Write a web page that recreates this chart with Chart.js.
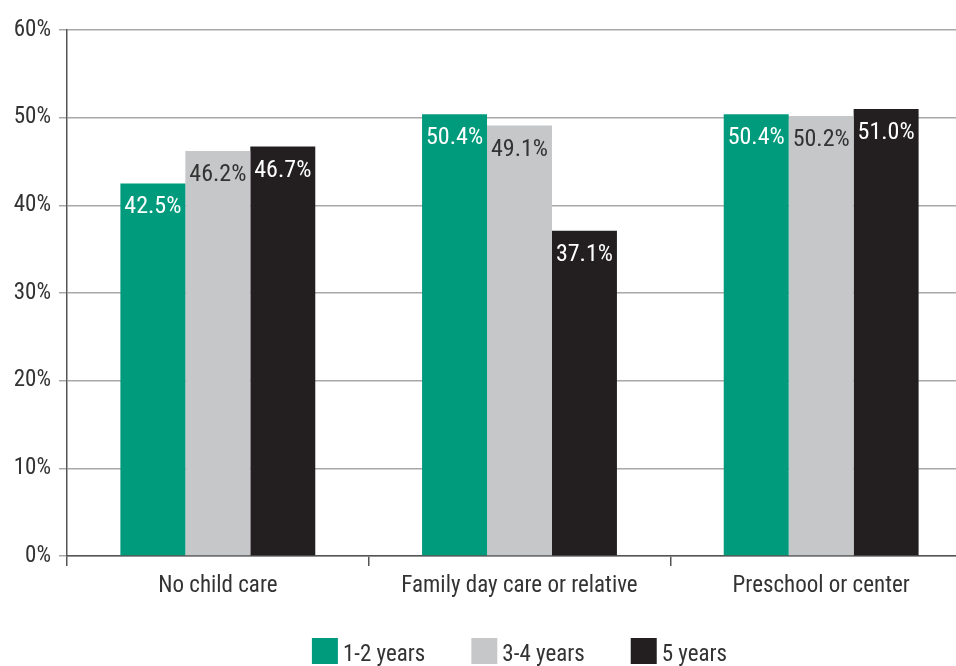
<!DOCTYPE html>
<html>
<head>
<meta charset="utf-8">
<title>Child care chart</title>
<script src="https://cdn.jsdelivr.net/npm/chart.js@4/dist/chart.umd.min.js"></script>
<style>
  html, body { margin: 0; padding: 0; background: #fff; overflow: hidden; }
  #wrap { width: 972px; height: 690px; position: relative; }
</style>
</head>
<body>
<div id="wrap"><canvas id="careChart"></canvas></div>
<script>
// === Data ===
const categories = ['No child care', 'Family day care or relative', 'Preschool or center'];
const seriesNames = ['1-2 years', '3-4 years', '5 years'];
const age12 = [42.5, 50.4, 50.4];
const age34 = [46.2, 49.1, 50.2];
const age5 = [46.7, 37.1, 51.0];
const yTicks = [0, 10, 20, 30, 40, 50, 60];

const colors = ['#009b7d', '#c6c7c9', '#231f20'];
const labelColors = ['#ffffff', '#333333', '#ffffff'];
const FONT = '"Liberation Sans Narrow", "Arial Narrow", "Roboto Condensed", Roboto, sans-serif';

// value text just inside the top of each bar
const barLabels = {
  id: 'barLabels',
  afterDatasetsDraw(chart) {
    const ctx = chart.ctx;
    ctx.save();
    ctx.font = '24px ' + FONT;
    ctx.textAlign = 'center';
    ctx.textBaseline = 'middle';
    chart.data.datasets.forEach((ds, i) => {
      chart.getDatasetMeta(i).data.forEach((bar, j) => {
        ctx.fillStyle = labelColors[i];
        ctx.fillText(ds.data[j].toFixed(1) + '%', bar.x, bar.y + 24);
      });
    });
    ctx.restore();
  }
};

// legend row under the axis, centred on the plot area
const bottomLegend = {
  id: 'bottomLegend',
  afterDraw(chart) {
    const ctx = chart.ctx;
    const area = chart.chartArea;
    const box = 26, textGap = 5, itemGap = 46;
    ctx.save();
    ctx.font = '23px ' + FONT;
    ctx.textBaseline = 'middle';
    const widths = chart.data.datasets.map(ds => box + textGap + ctx.measureText(ds.label).width);
    const total = widths.reduce((a, b) => a + b, 0) + itemGap * (widths.length - 1);
    let x = (area.left + area.right) / 2 - total / 2;
    const top = area.bottom + 82;
    chart.data.datasets.forEach((ds, i) => {
      ctx.fillStyle = ds.backgroundColor;
      ctx.fillRect(x, top, box, box);
      ctx.fillStyle = '#333';
      ctx.fillText(ds.label, x + box + textGap, top + box / 2 + 4);
      x += widths[i] + itemGap;
    });
    ctx.restore();
  }
};

const ctx = document.getElementById('careChart').getContext('2d');
new Chart(ctx, {
  type: 'bar',
  data: {
    labels: categories,
    datasets: [age12, age34, age5].map((vals, i) => ({
      label: seriesNames[i],
      data: vals,
      backgroundColor: colors[i],
      borderWidth: 0,
      barPercentage: 1,
      categoryPercentage: 0.646
    }))
  },
  options: {
    responsive: true,
    maintainAspectRatio: false,
    animation: false,
    layout: { padding: { top: 30, right: 0, left: 0, bottom: 56 } },
    plugins: {
      tooltip: { enabled: false },
      legend: { display: false }
    },
    scales: {
      x: {
        grid: { offset: true, drawOnChartArea: false, tickLength: 10, color: '#555', lineWidth: 1.5 },
        border: { color: '#555', width: 1.5 },
        ticks: { color: '#333', font: { family: FONT, size: 23 }, padding: 6 },
        afterFit(scale) { scale.height = 78; }
      },
      y: {
        min: 0,
        max: 60,
        afterBuildTicks(scale) { scale.ticks = yTicks.map(v => ({ value: v })); },
        grid: { color: '#a8a8a8', lineWidth: 1.5, tickLength: 8 },
        border: { color: '#555', width: 1.5 },
        ticks: {
          color: '#333',
          font: { family: FONT, size: 23 },
          padding: 8,
          callback: v => v + '%'
        },
        afterFit(scale) { scale.width = 67; }
      }
    }
  },
  plugins: [barLabels, bottomLegend]
});
</script>
</body>
</html>
